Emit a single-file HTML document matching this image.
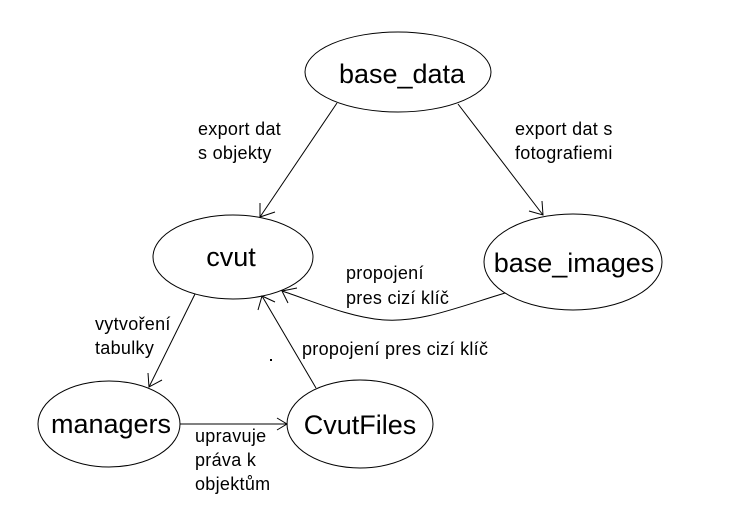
<!DOCTYPE html>
<html><head><meta charset="utf-8"><style>
html,body{margin:0;padding:0;background:#fff;}
svg{display:block;font-family:"Liberation Sans",sans-serif;}
.n{font-size:27px;}
.l{font-size:18px;letter-spacing:0.3px;}
</style></head><body>
<svg width="735" height="524" viewBox="0 0 735 524" xmlns="http://www.w3.org/2000/svg">
<g fill="none" stroke="#000" stroke-width="1">
<ellipse cx="398" cy="72" rx="93" ry="40"/>
<ellipse cx="233" cy="257" rx="80" ry="42"/>
<ellipse cx="573" cy="262" rx="89" ry="48"/>
<ellipse cx="109" cy="424" rx="71" ry="43"/>
<ellipse cx="360" cy="424" rx="73" ry="44"/>
<line x1="337" y1="103" x2="260" y2="217"/>
<polyline points="260,203 260,217 275,212"/>
<line x1="458" y1="104" x2="543" y2="215"/>
<polyline points="529,211 543,215 542,201"/>
<path d="M505,293 C450,310 420,322 385,320 C350,318 310,300 282,291"/>
<polyline points="297,288 282,291 288,303"/>
<line x1="195" y1="294" x2="149" y2="387"/>
<polyline points="148,373 149,387 162,380"/>
<line x1="180" y1="424" x2="287" y2="424"/>
<polyline points="277,418 287,424 277,430"/>
<line x1="316" y1="388" x2="262" y2="296"/>
<polyline points="258,310 262,296 275,302"/>
</g>
<g fill="#000">
<text class="n" x="402" y="83" text-anchor="middle">base_data</text>
<text class="n" x="231" y="266" text-anchor="middle">cvut</text>
<text class="n" x="574" y="272" text-anchor="middle">base_images</text>
<text class="n" x="111" y="433" text-anchor="middle">managers</text>
<text class="n" x="360" y="434" text-anchor="middle">CvutFiles</text>
<text class="l" x="198" y="135">export dat</text>
<text class="l" x="198" y="159">s objekty</text>
<text class="l" x="515" y="135">export dat s</text>
<text class="l" x="515" y="159">fotografiemi</text>
<text class="l" x="346" y="279">propojení</text>
<text class="l" x="346" y="304">pres cizí klíč</text>
<text class="l" x="302" y="355">propojení pres cizí klíč</text>
<text class="l" x="95" y="330">vytvoření</text>
<text class="l" x="95" y="354">tabulky</text>
<text class="l" x="195" y="442">upravuje</text>
<text class="l" x="195" y="466">práva k</text>
<text class="l" x="195" y="490">objektům</text>
<rect x="270" y="359" width="2" height="2"/>
</g>
</svg>
</body></html>
